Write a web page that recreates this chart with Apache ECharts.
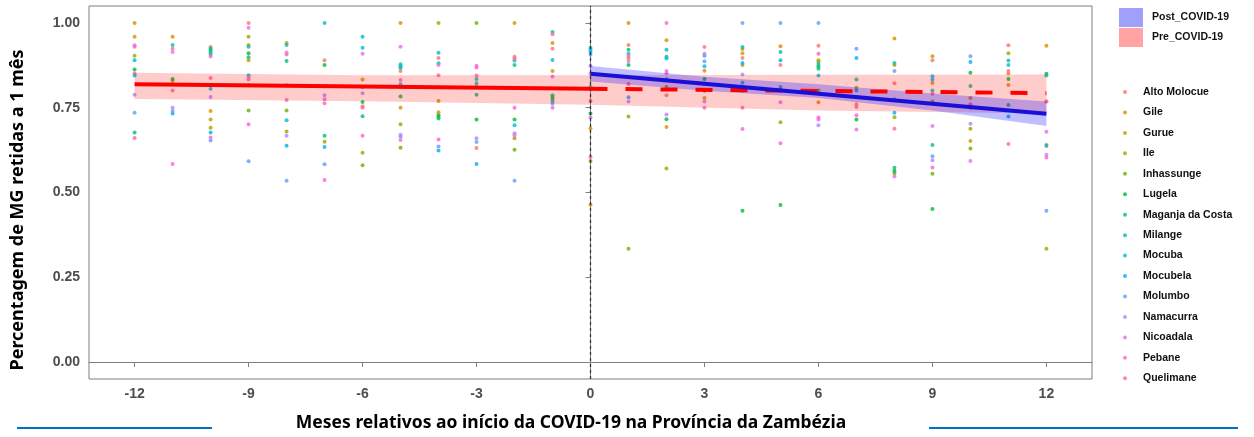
<!DOCTYPE html>
<html>
<head>
<meta charset="utf-8">
<script src="https://cdn.jsdelivr.net/npm/echarts@6/dist/echarts.min.js"></script>
<style>
  html, body { margin: 0; padding: 0; background: #fff; }
  #chart { width: 1254px; height: 437px; }
</style>
</head>
<body>
<div id="chart"></div>
<script>
  // meses relativos ao inicio da COVID-19
  var months = [-12, -11, -10, -9, -8, -7, -6, -5, -4, -3, -2, -1, 0, 1, 2, 3, 4, 5, 6, 7, 8, 9, 10, 11, 12]
  var xTicks = [-12, -9, -6, -3, 0, 3, 6, 9, 12]
  var yTicks = [0, 0.25, 0.5, 0.75, 1]

  var districts = ['Alto Molocue', 'Gile', 'Gurue', 'Ile', 'Inhassunge', 'Lugela', 'Maganja da Costa', 'Milange',
    'Mocuba', 'Mocubela', 'Molumbo', 'Namacurra', 'Nicoadala', 'Pebane', 'Quelimane']
  var districtColors = ['#F8766D', '#E58700', '#C99800', '#A3A500', '#6BB100', '#00BA38', '#00BF7D', '#00C0AF',
    '#00BCD8', '#00B0F6', '#619CFF', '#B983FF', '#E76BF3', '#FD61D1', '#FF67A4']

  // percentagem retida por distrito, meses -12 .. 12 (null = sem ponto)
  var altoMolocue = [0.851, 0.924, 0.929, 1.00, 0.907, 0.890, 0.754, 0.858, 0.897, 0.631, 0.900, 0.924, 0.770, 0.935, 0.787, 0.929, 0.897, 0.876, 0.933, 0.760, 0.822, 0.890, null, 0.934, 0.768]
  var gile = [1.00, 0.959, 0.740, 0.890, null, null, null, 1.00, 0.737, null, null, 0.941, 0.464, 1.00, 0.693, 0.859, 0.923, 0.931, 0.766, 0.782, 0.954, 0.823, 0.779, 0.817, 0.933]
  var gurue = [0.959, null, 0.715, 0.935, 0.941, null, 0.833, 0.750, 0.770, 0.812, 1.00, 0.858, 0.689, 0.897, 0.949, 0.779, 0.911, null, 0.890, null, 0.876, 0.902, 0.652, 0.851, 0.637]
  var ile = [0.903, 0.829, 0.691, 0.959, 0.680, 0.650, 0.617, 0.701, 1.00, null, 0.660, 0.774, 0.593, 0.724, 0.571, null, 0.876, 0.707, 0.885, 0.809, 0.722, 0.768, 0.688, 0.911, 0.334]
  var inhassunge = [null, null, 0.907, 0.742, 0.742, null, 0.580, 0.632, 0.723, 1.00, 0.626, null, 0.805, 0.334, 0.811, 0.800, 0.800, null, 0.801, null, 0.557, 0.555, 0.630, null, null]
  var lugela = [0.863, 0.835, 0.919, 0.911, null, 0.876, 0.767, 0.783, 0.728, 0.715, 0.715, 0.780, 0.733, 0.876, 0.716, 0.835, 0.446, 0.463, 0.872, 0.715, 0.564, 0.451, 0.853, 0.835, 0.850]
  var maganja = [0.677, null, 0.925, 0.899, 0.888, 0.667, 0.725, 0.868, 0.718, 0.788, 0.876, 0.787, 0.811, 0.921, 0.900, 0.821, null, null, 0.865, null, 0.573, 0.640, 0.814, 0.758, null]
  var milange = [null, 0.935, 0.913, 0.930, 0.935, 1.00, 0.959, 0.878, 0.912, 0.835, 0.889, 0.973, 0.926, null, 0.921, null, 0.929, 0.914, 0.879, 0.833, 0.882, 0.801, 0.750, 0.889, 0.845]
  var mocuba = [0.890, null, 0.806, 0.846, 0.713, 0.813, 0.927, 0.872, 0.881, 0.822, 0.698, 0.891, 0.920, 0.909, 0.895, 0.903, 0.824, 0.811, 0.845, 0.801, 0.775, 0.843, null, 0.876, null]
  var mocubela = [0.845, 0.733, 0.677, 0.816, 0.638, 0.634, 0.811, 0.819, 0.624, 0.584, null, 0.768, 0.914, 0.781, 0.834, 0.872, 0.882, 0.890, null, 0.897, 0.735, 0.833, 0.885, 0.724, 0.640]
  var molumbo = [0.735, 0.740, 0.653, 0.592, 0.535, 0.583, null, 0.665, 0.636, 0.649, 0.535, 0.762, 0.906, null, null, 0.887, 1.00, 1.00, 1.00, 0.924, 0.858, 0.607, 0.902, null, 0.446]
  var namacurra = [0.788, 0.750, 0.782, 0.840, 0.667, 0.787, 0.793, 0.670, null, 0.660, 0.675, null, 0.873, 0.768, 0.730, 0.768, 0.848, null, 0.698, null, null, 0.595, 0.703, null, 0.611]
  var nicoadala = [0.934, 0.914, 0.901, 0.986, 0.913, 0.775, 0.909, 0.930, 0.876, 0.874, 0.669, 0.842, 0.721, 0.888, 0.858, 0.909, null, 0.766, 0.715, 0.686, 0.547, 0.696, 0.593, null, 0.679]
  var pebane = [0.930, 0.584, 0.662, 0.701, 0.816, 0.537, 0.667, 0.655, 0.656, 0.869, 0.750, 0.750, 0.605, 0.903, 1.00, null, 0.687, 0.645, 0.721, 0.728, null, 0.574, null, 0.643, 0.603]
  var quelimane = [0.661, 0.801, 0.838, 0.833, 0.773, 0.763, 0.750, 0.832, 0.846, 0.845, 0.895, 0.967, 0.850, 0.820, 0.852, 0.750, 0.750, null, 0.909, 0.752, 0.688, 0.791, 0.760, 0.858, 0.768]
  var districtValues = [altoMolocue, gile, gurue, ile, inhassunge, lugela, maganja, milange,
    mocuba, mocubela, molumbo, namacurra, nicoadala, pebane, quelimane]

  // tendencias (regressao linear) e bandas de confianca
  var preLineX = [-12, 0, 12]
  var preLineY = [0.819, 0.806, 0.793]
  var bandX = [-12, -6, 0, 6, 12]
  var preUpper = [0.853, 0.846, 0.846, 0.847, 0.848]
  var preLower = [0.776, 0.769, 0.759, 0.742, 0.733]
  var postLineX = [0, 12]
  var postLineY = [0.850, 0.732]
  var postBandX = [0, 3, 6, 9, 12]
  var postUpper = [0.873, 0.841, 0.819, 0.792, 0.768]
  var postLower = [0.827, 0.800, 0.779, 0.742, 0.696]

  var chart = echarts.init(document.getElementById('chart'))

  function pairs (xs, ys) {
    var out = []
    for (var i = 0; i < xs.length; i++) {
      if (ys[i] !== null) out.push([xs[i], ys[i]])
    }
    return out
  }

  function band (name, xs, lo, hi, fill) {
    return {
      type: 'custom',
      name: name,
      silent: true,
      z: 3,
      data: [[xs[0], lo[0]]],
      renderItem: function (params, api) {
        var pts = []
        for (var i = 0; i < xs.length; i++) pts.push(api.coord([xs[i], hi[i]]))
        for (var j = xs.length - 1; j >= 0; j--) pts.push(api.coord([xs[j], lo[j]]))
        return { type: 'polygon', shape: { points: pts }, style: { fill: fill } }
      }
    }
  }

  var series = []
  districts.forEach(function (d, k) {
    series.push({
      type: 'scatter',
      name: d,
      symbol: 'circle',
      symbolSize: 4,
      z: 2,
      itemStyle: { color: districtColors[k] },
      data: pairs(months, districtValues[k])
    })
  })
  series.push(band('Pre_COVID-19', bandX, preLower, preUpper, 'rgba(255, 0, 0, 0.2)'))
  series.push(band('Post_COVID-19', postBandX, postLower, postUpper, 'rgba(0, 0, 255, 0.25)'))
  // linha vertical no inicio da COVID-19
  series.push({
    type: 'line', silent: true, z: 4, symbol: 'none',
    lineStyle: { color: '#333', width: 1.3, type: [3, 3] },
    data: [[0, -0.05], [0, 1.05]]
  })
  series.push({
    type: 'line', silent: true, z: 5, symbol: 'none',
    lineStyle: { color: '#ff0000', width: 4 },
    data: pairs(preLineX.slice(0, 2), preLineY.slice(0, 2))
  })
  series.push({
    type: 'line', silent: true, z: 5, symbol: 'none',
    lineStyle: { color: '#ff0000', width: 4, type: [17, 18] },
    data: pairs(preLineX.slice(1), preLineY.slice(1))
  })
  series.push({
    type: 'line', silent: true, z: 6, symbol: 'none',
    lineStyle: { color: '#1a0fd6', width: 4 },
    data: pairs(postLineX, postLineY)
  })

  var tickFont = { fontFamily: 'Liberation Sans', fontWeight: 'bold', fontSize: 14, color: '#4d4d4d' }

  var option = {
    animation: false,
    backgroundColor: '#fff',
    grid: { left: 89, right: 162, top: 6, bottom: 58, show: true, borderColor: '#7f7f7f', borderWidth: 1 },
    xAxis: {
      type: 'value', min: -13.2, max: 13.2,
      splitLine: { show: false },
      axisLine: { show: true, lineStyle: { color: '#7f7f7f' } },
      axisTick: { show: true, length: 5, lineStyle: { color: '#7f7f7f' }, customValues: xTicks },
      axisLabel: Object.assign({ margin: 8, customValues: xTicks }, tickFont)
    },
    yAxis: {
      type: 'value', min: -0.05, max: 1.05,
      splitLine: { show: false },
      axisLine: { show: true, lineStyle: { color: '#7f7f7f' } },
      axisTick: { show: true, length: 5, lineStyle: { color: '#7f7f7f' }, customValues: yTicks },
      axisLabel: Object.assign({ margin: 9, customValues: yTicks, formatter: function (v) { return v.toFixed(2) } }, tickFont)
    },
    legend: {
      data: districts,
      orient: 'vertical',
      left: 1118, top: 81,
      itemWidth: 26, itemHeight: 4, itemGap: 8.45,
      icon: 'circle',
      selectedMode: false,
      textStyle: { fontFamily: 'Liberation Sans', fontWeight: 'bold', fontSize: 10.5, lineHeight: 12, color: '#111' }
    },
    graphic: [
      { type: 'rect', left: 1119, top: 8, shape: { width: 24, height: 19 }, style: { fill: '#a0a0fb' } },
      { type: 'rect', left: 1119, top: 28, shape: { width: 24, height: 19 }, style: { fill: '#ffa3a3' } },
      { type: 'text', left: 1152, top: 12, style: { text: 'Post_COVID-19', font: 'bold 10.5px "Liberation Sans"', fill: '#111' } },
      { type: 'text', left: 1152, top: 32, style: { text: 'Pre_COVID-19', font: 'bold 10.5px "Liberation Sans"', fill: '#111' } },
      {
        type: 'text', x: 18, y: 210, rotation: Math.PI / 2,
        style: { text: 'Percentagem de MG retidas a 1 mês', font: 'bold 18px "Noto Sans"', fill: '#000', align: 'center', verticalAlign: 'middle' }
      },
      {
        type: 'text', x: 571, y: 423,
        style: { text: 'Meses relativos ao início da COVID-19 na Província da Zambézia', font: 'bold 17.5px "Noto Sans"', fill: '#000', align: 'center', verticalAlign: 'middle' }
      },
      { type: 'line', shape: { x1: 17, y1: 428, x2: 212, y2: 428 }, style: { stroke: '#0070c0', lineWidth: 2 } },
      { type: 'line', shape: { x1: 929, y1: 428, x2: 1238, y2: 428 }, style: { stroke: '#0070c0', lineWidth: 2 } }
    ],
    series: series
  }

  chart.setOption(option)
  window.addEventListener('resize', function () {
    chart.resize()
  })
</script>
</body>
</html>
